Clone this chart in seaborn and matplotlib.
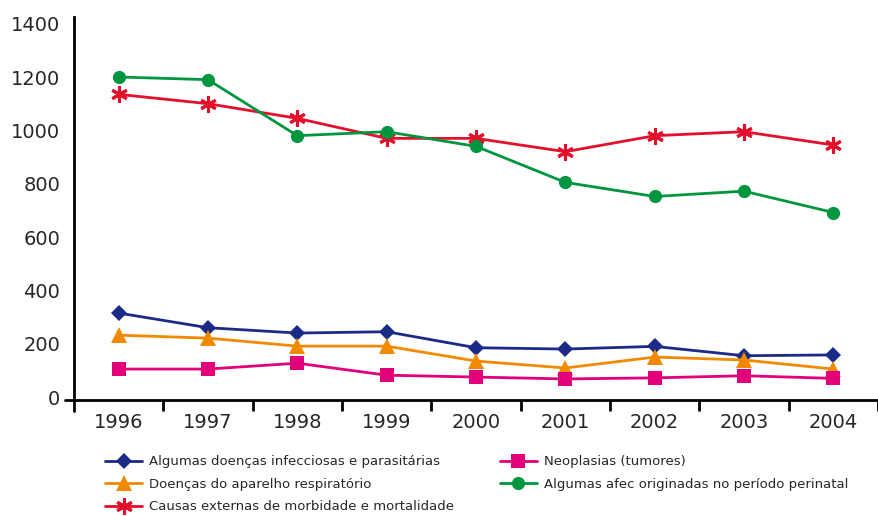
import numpy as np
import pandas as pd
import seaborn as sns
import matplotlib.pyplot as plt
from matplotlib.ticker import FixedLocator

# ---------------- data ----------------
years = [1996, 1997, 1998, 1999, 2000, 2001, 2002, 2003, 2004]

infecciosas = [315, 260, 240, 245, 185, 180, 190, 155, 158]
neoplasias = [105, 105, 127, 82, 75, 68, 72, 80, 70]
respiratorio = [232, 221, 191, 191, 135, 109, 150, 139, 105]
perinatal = [1200, 1190, 980, 995, 940, 805, 752, 772, 692]
causas_externas = [1135, 1100, 1045, 970, 970, 920, 980, 995, 945]

y_ticks = [0, 200, 400, 600, 800, 1000, 1200, 1400]

# legend order: column 1 then column 2
series = [
    ('Algumas doenças infecciosas e parasitárias', infecciosas, '#1b2a87', 'D', 8.5),
    ('Doenças do aparelho respiratório', respiratorio, '#f18a00', '^', 11),
    ('Causas externas de morbidade e mortalidade', causas_externas, '#e3102b', (6, 2, 0), 12),
    ('Neoplasias (tumores)', neoplasias, '#e2007a', 's', 9.5),
    ('Algumas afec originadas no período perinatal', perinatal, '#00963f', 'o', 9.5),
]

sns.set_style('white')
plt.rcParams['font.family'] = ['DejaVu Sans']

fig = plt.figure(figsize=(8.79, 5.16), dpi=100)
ax = fig.add_axes([74 / 879, 116 / 516, 804 / 879, 383 / 516])

for name, values, color, marker, size in series:
    df = pd.DataFrame({'ano': years, 'valor': values})
    mew = 2.2 if isinstance(marker, tuple) else 0
    sns.lineplot(data=df, x='ano', y='valor', ax=ax, color=color, linewidth=2,
                 marker=marker, markersize=size, markeredgewidth=mew,
                 markeredgecolor=color, label=name, legend=False)

ax.set_xlim(1995.5, 2004.5)
ax.set_ylim(-11, 1425)
ax.set_xlabel('')
ax.set_ylabel('')

ax.set_yticks(y_ticks)
ax.set_yticklabels([str(v) for v in y_ticks], fontsize=14)
ax.tick_params(axis='y', length=0, pad=10)

ax.set_xticks(years)
ax.set_xticklabels([str(y) for y in years], fontsize=14)
ax.xaxis.set_minor_locator(FixedLocator([y + 0.5 for y in years]))
ax.tick_params(axis='x', which='major', length=0, pad=9)
ax.tick_params(axis='x', which='minor', bottom=True, length=8, width=2,
               direction='out', color='black')

for side in ['top', 'right']:
    ax.spines[side].set_visible(False)
ax.spines['left'].set_linewidth(2)
ax.spines['bottom'].set_linewidth(2)
ax.spines['left'].set_color('black')
ax.spines['bottom'].set_color('black')

# axis lines run a little past the corner, as in the original
ax.plot([0, 0], [-0.03, 0], transform=ax.transAxes, color='black', lw=2, clip_on=False)
ax.plot([-0.011, 0], [0, 0], transform=ax.transAxes, color='black', lw=2, clip_on=False)

handles, labels = ax.get_legend_handles_labels()
fig.legend(handles, labels, loc='upper left', bbox_to_anchor=(100 / 879, 1 - 450 / 516),
           ncol=2, frameon=False, fontsize=9.5, handlelength=2.8, handletextpad=0.5,
           columnspacing=3.5, labelspacing=0.72, borderaxespad=0)

plt.savefig('out.png', dpi=100)
